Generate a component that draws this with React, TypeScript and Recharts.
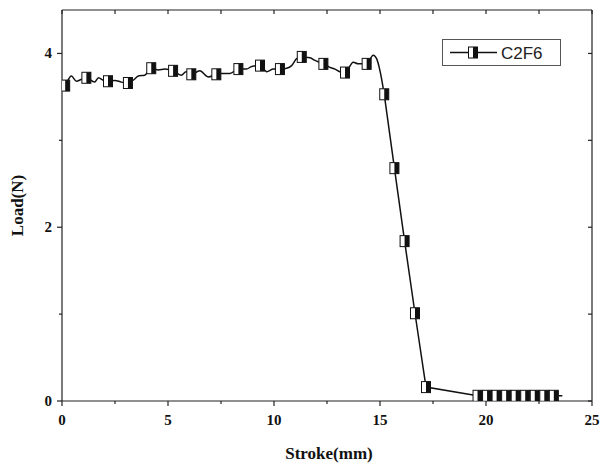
import { ComposedChart, Line, Scatter, XAxis, YAxis } from "recharts"

// plateau trace (stroke mm, load N)
const plateau = [
  { x: 0.12, y: 3.62 }, { x: 0.15, y: 3.63 }, { x: 0.44, y: 3.74 }, { x: 0.68, y: 3.68 },
  { x: 0.9, y: 3.7 }, { x: 1.15, y: 3.72 }, { x: 1.54, y: 3.67 }, { x: 1.72, y: 3.72 },
  { x: 1.95, y: 3.69 }, { x: 2.17, y: 3.68 }, { x: 2.5, y: 3.69 }, { x: 2.8, y: 3.67 },
  { x: 3.11, y: 3.66 }, { x: 3.4, y: 3.7 }, { x: 3.6, y: 3.74 }, { x: 3.9, y: 3.75 },
  { x: 4.21, y: 3.83 }, { x: 4.55, y: 3.81 }, { x: 4.85, y: 3.82 }, { x: 5.24, y: 3.8 },
  { x: 5.63, y: 3.75 }, { x: 5.85, y: 3.79 }, { x: 6.1, y: 3.76 }, { x: 6.5, y: 3.8 },
  { x: 6.89, y: 3.73 }, { x: 7.28, y: 3.76 }, { x: 7.45, y: 3.77 }, { x: 7.92, y: 3.77 },
  { x: 8.32, y: 3.82 }, { x: 8.7, y: 3.82 }, { x: 8.95, y: 3.85 }, { x: 9.34, y: 3.86 },
  { x: 9.66, y: 3.79 }, { x: 9.97, y: 3.82 }, { x: 10.28, y: 3.82 }, { x: 10.6, y: 3.83 },
  { x: 10.83, y: 3.86 }, { x: 11.07, y: 3.94 }, { x: 11.31, y: 3.96 }, { x: 11.7, y: 3.95 },
  { x: 11.93, y: 3.92 }, { x: 12.33, y: 3.88 }, { x: 12.64, y: 3.84 }, { x: 12.88, y: 3.82 },
  { x: 13.11, y: 3.79 }, { x: 13.35, y: 3.78 }, { x: 13.74, y: 3.9 }, { x: 13.97, y: 3.88 },
  { x: 14.37, y: 3.88 }, { x: 14.68, y: 3.98 }, { x: 14.84, y: 3.94 }, { x: 15.0, y: 3.8 },
  { x: 15.2, y: 3.53 },
]

// steep drop and tail
const drop = [
  { x: 15.2, y: 3.53 }, { x: 15.68, y: 2.68 }, { x: 16.16, y: 1.84 }, { x: 16.65, y: 1.01 },
  { x: 17.17, y: 0.16 }, { x: 19.6, y: 0.06 }, { x: 23.6, y: 0.06 },
]

// positions of the square symbols
const markers = [
  { x: 0.15, y: 3.63 }, { x: 1.15, y: 3.72 }, { x: 2.17, y: 3.68 }, { x: 3.11, y: 3.66 },
  { x: 4.21, y: 3.83 }, { x: 5.24, y: 3.8 }, { x: 6.1, y: 3.76 }, { x: 7.28, y: 3.76 },
  { x: 8.32, y: 3.82 }, { x: 9.34, y: 3.86 }, { x: 10.28, y: 3.82 }, { x: 11.31, y: 3.96 },
  { x: 12.33, y: 3.88 }, { x: 13.35, y: 3.78 }, { x: 14.37, y: 3.88 }, { x: 15.2, y: 3.53 },
  { x: 15.68, y: 2.68 }, { x: 16.16, y: 1.84 }, { x: 16.65, y: 1.01 }, { x: 17.17, y: 0.16 },
  { x: 19.6, y: 0.06 }, { x: 20.05, y: 0.06 }, { x: 20.5, y: 0.06 }, { x: 20.95, y: 0.06 },
  { x: 21.4, y: 0.06 }, { x: 21.85, y: 0.06 }, { x: 22.3, y: 0.06 }, { x: 22.75, y: 0.06 },
  { x: 23.2, y: 0.06 },
]

const xTicks = [0, 2.5, 5, 7.5, 10, 12.5, 15, 17.5, 20, 22.5, 25]
const yTicks = [0, 1, 2, 3, 4]
const seriesName = "C2F6"

const FONT = "'Liberation Serif', 'Times New Roman', serif"
const AXIS = "#222"

function HalfSquare({ cx, cy }: any) {
  if (cx == null || cy == null) return null
  return (
    <g>
      <rect x={cx - 4.5} y={cy - 5.5} width={9} height={11} fill="#fff" stroke="#111" strokeWidth={1} />
      <rect x={cx} y={cy - 5.5} width={4.5} height={11} fill="#111" />
    </g>
  )
}

function BottomTick({ x, y, payload }: any) {
  const major = payload.value % 5 === 0
  return (
    <g>
      <line x1={x} y1={y} x2={x} y2={y + (major ? 5 : 3)} stroke={AXIS} strokeWidth={1.2} />
      {major && (
        <text x={x} y={y + 24} textAnchor="middle" fontFamily={FONT} fontWeight="bold" fontSize={15} fill="#111">
          {payload.value}
        </text>
      )}
    </g>
  )
}

function LeftTick({ x, y, payload }: any) {
  const major = payload.value % 2 === 0
  return (
    <g>
      <line x1={x} y1={y} x2={x - (major ? 5 : 3)} y2={y} stroke={AXIS} strokeWidth={1.2} />
      {major && (
        <text x={x - 10} y={y + 5} textAnchor="end" fontFamily={FONT} fontWeight="bold" fontSize={15} fill="#111">
          {payload.value}
        </text>
      )}
    </g>
  )
}

function TopTick({ x, y }: any) {
  return <line x1={x} y1={y} x2={x} y2={y + 4} stroke={AXIS} strokeWidth={1.2} />
}

function RightTick({ x, y }: any) {
  return <line x1={x} y1={y} x2={x - 4} y2={y} stroke={AXIS} strokeWidth={1.2} />
}

export default function App() {
  return (
    <div style={{ position: "absolute", left: 0, top: 0, width: 610, height: 464, background: "#fff", overflow: "hidden" }}>
      <ComposedChart width={610} height={464} margin={{ top: 9, right: 17, left: 0, bottom: 0 }}>
        <XAxis
          type="number"
          dataKey="x"
          domain={[0, 25]}
          ticks={xTicks}
          interval={0}
          height={63}
          tickSize={0}
          tickMargin={0}
          tick={<BottomTick />}
          axisLine={{ stroke: AXIS, strokeWidth: 1.2 }}
          tickLine={false}
          allowDataOverflow
        />
        <XAxis
          xAxisId="top"
          orientation="top"
          type="number"
          dataKey="x"
          domain={[0, 25]}
          ticks={xTicks}
          interval={0}
          height={1}
          tickSize={0}
          tickMargin={0}
          tick={<TopTick />}
          axisLine={{ stroke: AXIS, strokeWidth: 1.2 }}
          tickLine={false}
          allowDataOverflow
        />
        <YAxis
          type="number"
          domain={[0, 4.5]}
          ticks={yTicks}
          interval={0}
          width={62}
          tickSize={0}
          tickMargin={0}
          tick={<LeftTick />}
          axisLine={{ stroke: AXIS, strokeWidth: 1.2 }}
          tickLine={false}
          allowDataOverflow
          label={{ value: "Load(N)", angle: -90, position: "insideLeft", offset: 17, style: { fontFamily: FONT, fontWeight: "bold", fontSize: 17, fill: "#111", textAnchor: "middle" } }}
        />
        <YAxis
          yAxisId="right"
          orientation="right"
          type="number"
          domain={[0, 4.5]}
          ticks={yTicks}
          interval={0}
          width={1}
          tickSize={0}
          tickMargin={0}
          tick={<RightTick />}
          axisLine={{ stroke: AXIS, strokeWidth: 1.2 }}
          tickLine={false}
          allowDataOverflow
        />
        {/* invisible copy so the mirrored frame axes have a series */}
        <Line
          data={drop}
          dataKey="y"
          xAxisId="top"
          yAxisId="right"
          stroke="none"
          dot={false}
          activeDot={false}
          legendType="none"
          isAnimationActive={false}
        />
        <Line
          data={plateau}
          dataKey="y"
          type="monotone"
          stroke="#111"
          strokeWidth={1.5}
          dot={false}
          activeDot={false}
          legendType="none"
          isAnimationActive={false}
        />
        <Line
          data={drop}
          dataKey="y"
          type="linear"
          stroke="#111"
          strokeWidth={1.5}
          dot={false}
          activeDot={false}
          legendType="none"
          isAnimationActive={false}
        />
        <Scatter data={markers} dataKey="y" shape={<HalfSquare />} legendType="none" isAnimationActive={false} />
        <g>
          <rect x={442.5} y={39.5} width={118} height={26} fill="#fff" stroke="#555" strokeWidth={1} />
          <line x1={450} y1={52.5} x2={497} y2={52.5} stroke="#111" strokeWidth={1.5} />
          <HalfSquare cx={473} cy={52.5} />
          <text x={501} y={59} fontFamily="'Liberation Sans', Arial, sans-serif" fontSize={17} fill="#222">
            {seriesName}
          </text>
        </g>
        <text x={329} y={459} textAnchor="middle" fontFamily={FONT} fontWeight="bold" fontSize={17} fill="#111">
          Stroke(mm)
        </text>
      </ComposedChart>
    </div>
  )
}
